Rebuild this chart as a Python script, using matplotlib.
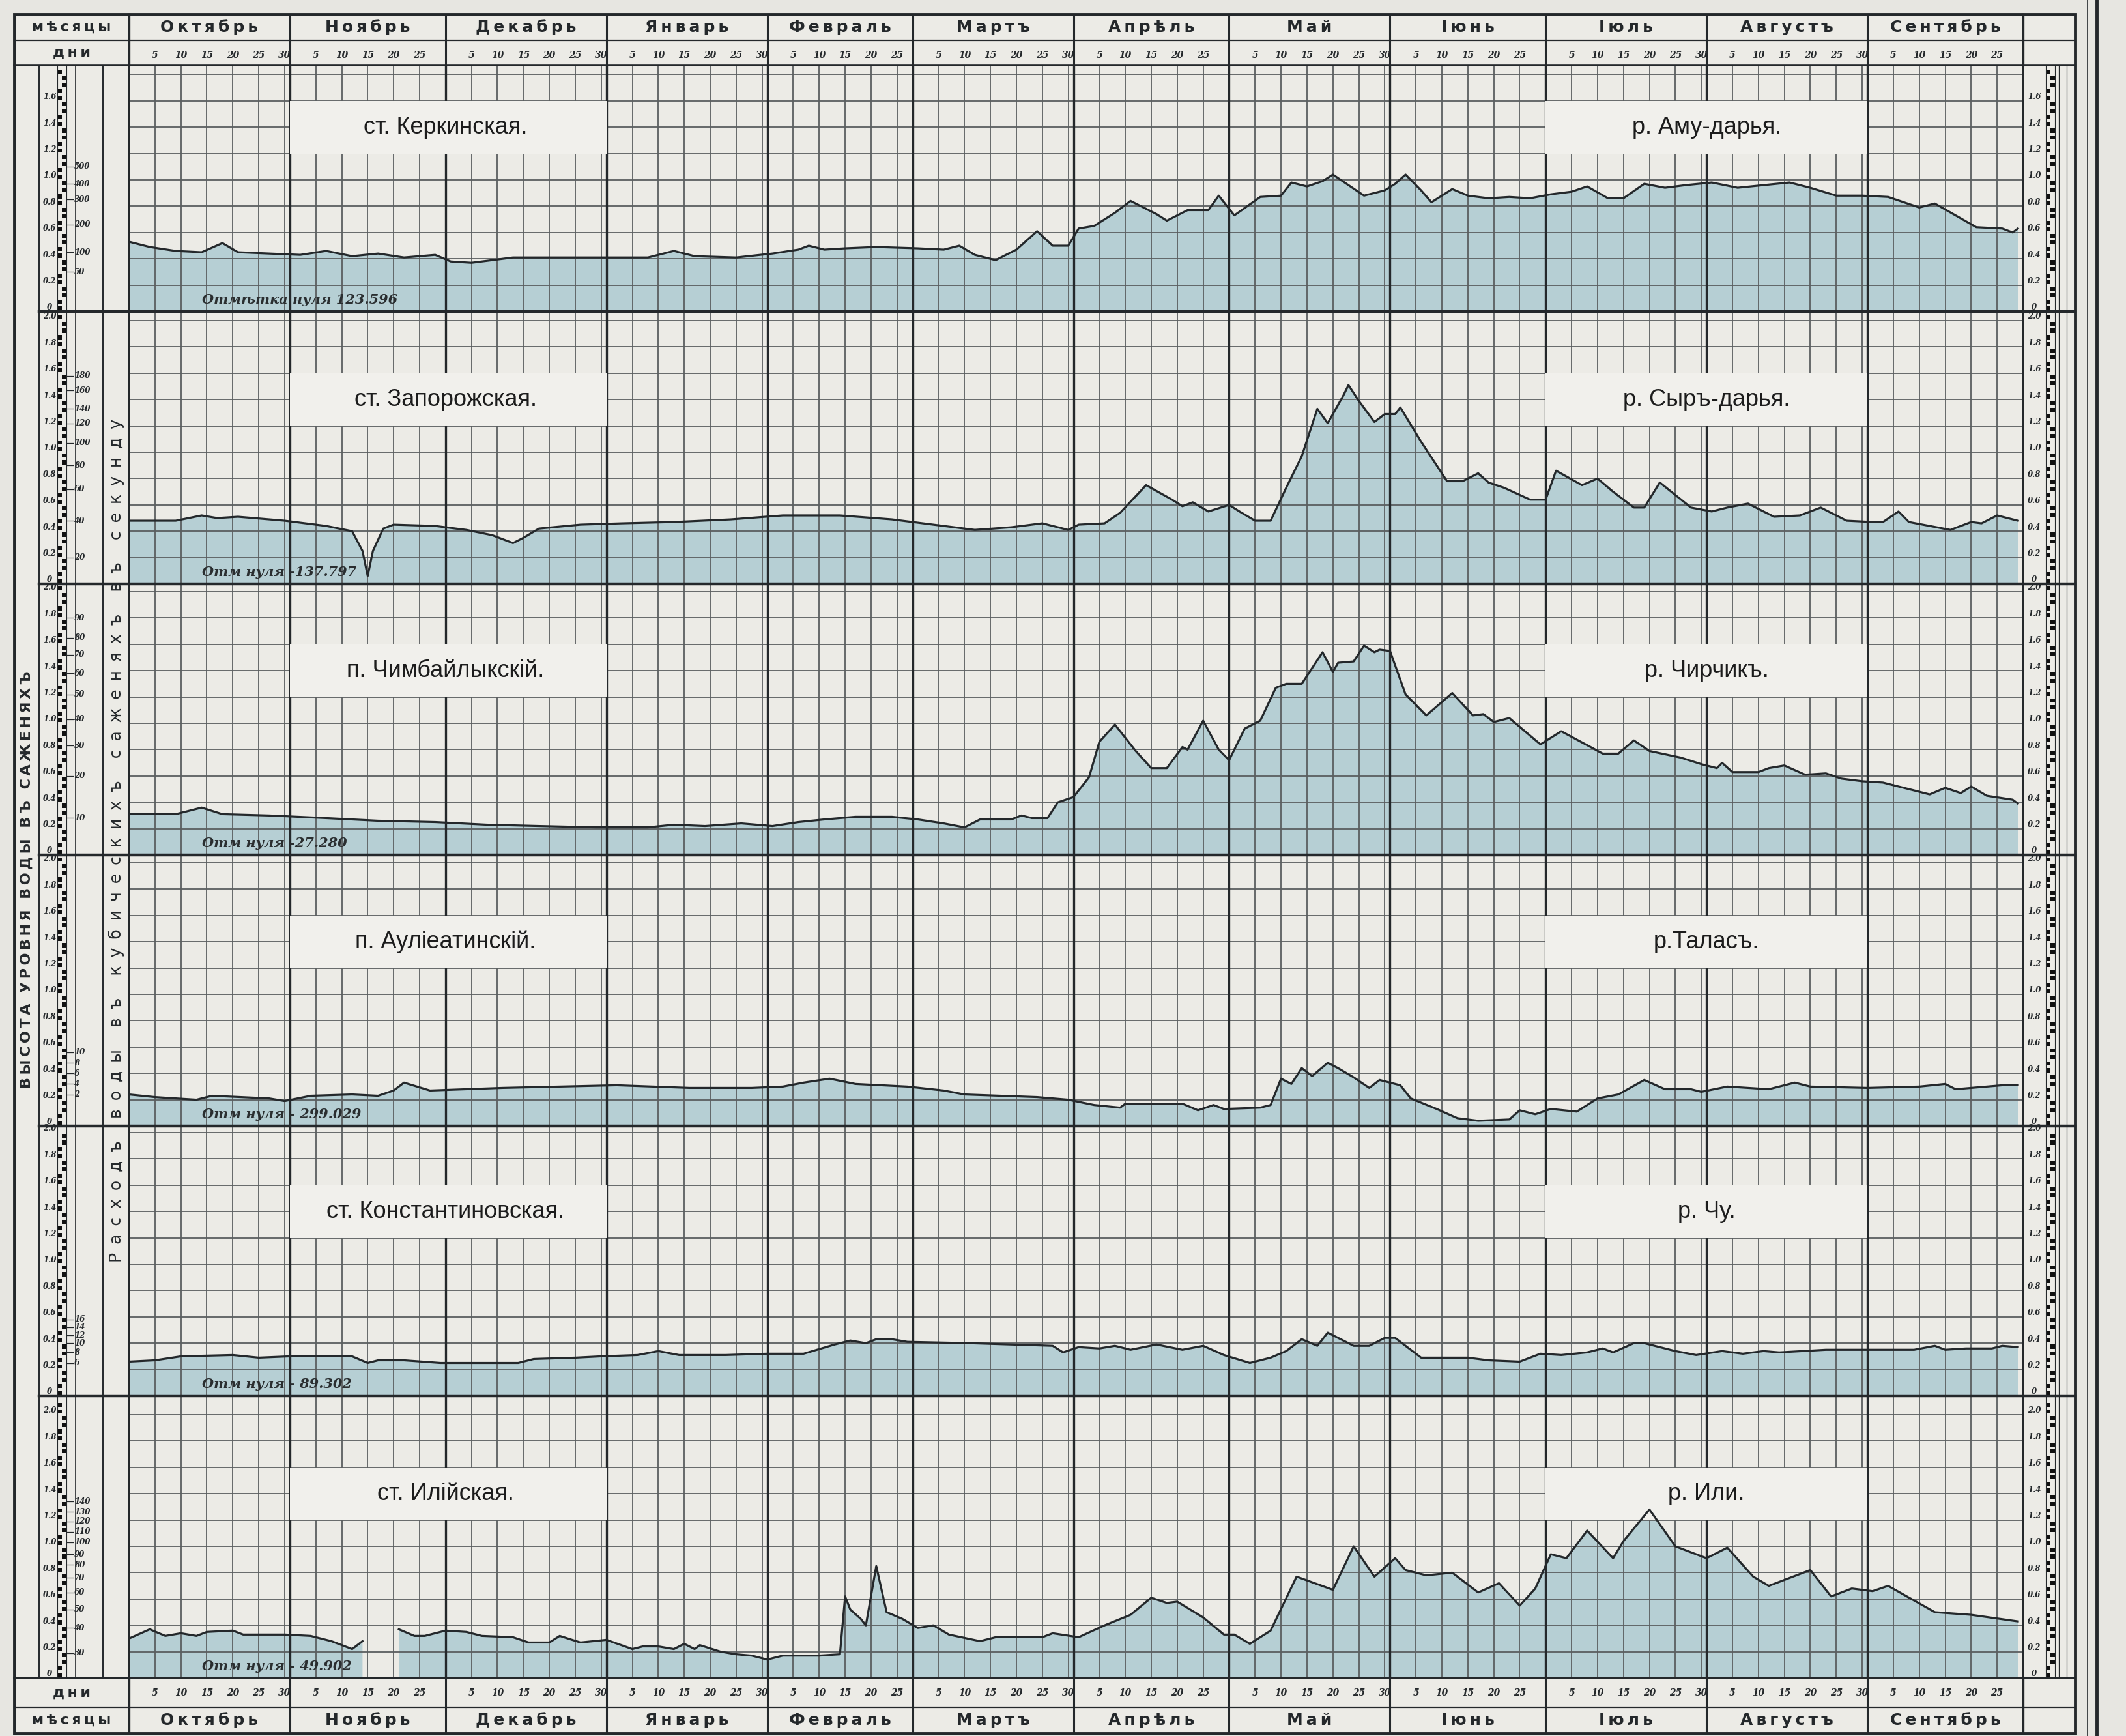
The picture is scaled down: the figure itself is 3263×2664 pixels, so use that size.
import numpy as np
import matplotlib.pyplot as plt
from matplotlib.patches import Rectangle

# ---- data (levels in сажени, day 0 = 1 October) ----
months = ['Октябрь', 'Ноябрь', 'Декабрь', 'Январь', 'Февраль', 'Мартъ',
          'Апрѣль', 'Май', 'Іюнь', 'Іюль', 'Августъ', 'Сентябрь']
month_len = [31, 30, 31, 31, 28, 31, 30, 31, 30, 31, 31, 30]

stations = ['ст. Керкинская.', 'ст. Запорожская.', 'п. Чимбайлыкскій.',
            'п. Аулiеатинскій.', 'ст. Константиновская.', 'ст. Илійская.']
rivers = ['р. Аму-дарья.', 'р. Сыръ-дарья.', 'р. Чирчикъ.', 'р.Таласъ.',
          'р. Чу.', 'р. Или.']
zero_marks = ['Отмѣтка нуля 123.596', 'Отм нуля -137.797', 'Отм нуля -27.280',
              'Отм нуля - 299.029', 'Отм нуля - 89.302', 'Отм нуля - 49.902']

amu = [(0, .53), (4, .49), (9, .46), (14, .45), (18, .52), (21, .45), (27, .44), (33, .43),
       (38, .46), (43, .42), (48, .44), (53, .41), (59, .43), (62, .38), (66, .37), (74, .41),
       (85, .41), (95, .41), (100, .41), (105, .46), (109, .42), (117, .41), (124, .44),
       (129, .47), (131, .50), (134, .47), (138, .48), (144, .49), (152, .48), (157, .47),
       (160, .50), (163, .43), (167, .39), (171, .47), (175, .61), (178, .50), (181, .50),
       (183, .63), (186, .65), (190, .75), (193, .84), (198, .74), (200, .69), (204, .77),
       (208, .77), (210, .88), (213, .73), (218, .87), (222, .88), (224, .98), (227, .95),
       (230, .99), (232, 1.04), (235, .96), (238, .88), (242, .92), (244, .97), (246, 1.04),
       (249, .92), (251, .83), (255, .93), (258, .88), (262, .86), (266, .87), (270, .86),
       (274, .89), (278, .91), (281, .95), (285, .86), (288, .86), (292, .97), (296, .94),
       (300, .96), (305, .98), (310, .94), (315, .96), (320, .98), (324, .94), (329, .88),
       (334, .88), (339, .87), (345, .79), (348, .82), (352, .73), (356, .64), (361, .63),
       (363, .60), (364, .63)]

syr = [(0, .48), (9, .48), (14, .52), (17, .50), (21, .51), (30, .48), (38, .44), (43, .40),
       (45, .25), (46, .06), (47, .25), (49, .42), (51, .45), (59, .44), (65, .41), (70, .37),
       (74, .31), (76, .35), (79, .42), (87, .45), (95, .46), (105, .47), (116, .49),
       (126, .52), (137, .52), (147, .49), (155, .45), (163, .41), (170, .43), (176, .46),
       (181, .41), (183, .45), (188, .46), (191, .54), (196, .75), (201, .64), (203, .59),
       (205, .62), (208, .55), (212, .60), (214, .55), (217, .48), (220, .48), (223, .73),
       (226, .97), (229, 1.33), (231, 1.22), (234, 1.43), (235, 1.51), (237, 1.39),
       (240, 1.23), (242, 1.29), (244, 1.29), (245, 1.34), (249, 1.08), (254, .78),
       (257, .78), (260, .84), (262, .77), (265, .73), (270, .64), (273, .64), (275, .86),
       (280, .75), (283, .80), (286, .70), (290, .58), (292, .58), (295, .77), (301, .58),
       (305, .55), (308, .58), (312, .61), (317, .51), (322, .52), (326, .58), (331, .48),
       (336, .47), (338, .47), (341, .55), (343, .47), (351, .41), (355, .47), (357, .46),
       (360, .52), (364, .48)]

chirchik = [(0, .31), (9, .31), (14, .36), (18, .31), (27, .30), (38, .28), (48, .26),
            (59, .25), (69, .23), (79, .22), (90, .21), (100, .21), (105, .23), (111, .22),
            (118, .24), (124, .22), (129, .25), (134, .27), (140, .29), (147, .29), (152, .27),
            (157, .24), (161, .21), (164, .27), (170, .27), (172, .30), (174, .28), (177, .28),
            (179, .40), (182, .44), (185, .59), (187, .86), (190, .99), (194, .79), (197, .66),
            (200, .66), (203, .82), (204, .80), (207, 1.02), (210, .80), (212, .72), (215, .96),
            (218, 1.02), (221, 1.27), (223, 1.30), (226, 1.30), (228, 1.42), (230, 1.54),
            (232, 1.39), (233, 1.46), (236, 1.47), (238, 1.59), (240, 1.54), (241, 1.56),
            (243, 1.55), (246, 1.22), (250, 1.06), (255, 1.23), (259, 1.06), (261, 1.07),
            (263, 1.01), (266, 1.04), (272, .84), (276, .94), (284, .77), (287, .77), (290, .87),
            (293, .79), (299, .74), (303, .69), (306, .66), (307, .70), (309, .63), (314, .63),
            (316, .66), (319, .68), (323, .61), (327, .62), (330, .58), (334, .56), (338, .55),
            (341, .52), (347, .46), (350, .51), (353, .47), (355, .52), (358, .45), (363, .42),
            (364, .39)]

talas = [(0, .24), (5, .22), (13, .20), (16, .23), (27, .21), (30, .19), (35, .23), (43, .24),
         (48, .23), (51, .27), (53, .33), (58, .27), (72, .29), (94, .31), (108, .29),
         (120, .29), (126, .30), (130, .33), (135, .36), (140, .32), (150, .30), (157, .27),
         (161, .24), (175, .22), (181, .20), (186, .16), (191, .14), (192, .17), (203, .17),
         (206, .12), (209, .16), (211, .13), (218, .14), (220, .16), (222, .36), (224, .32),
         (226, .44), (228, .38), (231, .48), (233, .44), (236, .37), (239, .29), (241, .35),
         (245, .31), (247, .21), (252, .13), (256, .06), (260, .04), (266, .05), (268, .12),
         (271, .09), (274, .13), (279, .11), (283, .21), (287, .24), (292, .35), (296, .28),
         (301, .28), (303, .26), (308, .30), (316, .28), (321, .33), (324, .30), (335, .29),
         (345, .30), (350, .32), (352, .28), (358, .30), (361, .31), (364, .31)]

chu = [(0, .26), (5, .27), (10, .30), (20, .31), (25, .29), (31, .30), (43, .30), (46, .25),
       (48, .27), (53, .27), (60, .25), (75, .25), (78, .28), (86, .29), (91, .30), (98, .31),
       (102, .34), (106, .31), (115, .31), (123, .32), (130, .32), (136, .39), (139, .42),
       (142, .40), (144, .43), (147, .43), (150, .41), (162, .40), (178, .38), (180, .33),
       (183, .37), (187, .36), (190, .38), (193, .35), (198, .39), (203, .35), (207, .38),
       (211, .31), (216, .25), (220, .29), (223, .34), (226, .43), (229, .38), (231, .48),
       (236, .38), (239, .38), (242, .44), (244, .44), (249, .29), (258, .29), (262, .27),
       (268, .26), (272, .32), (276, .31), (281, .33), (284, .36), (286, .33), (290, .40),
       (292, .40), (298, .34), (302, .31), (307, .34), (311, .32), (315, .34), (318, .33),
       (327, .35), (333, .35), (344, .35), (348, .38), (350, .35), (354, .36), (359, .36),
       (361, .38), (364, .37)]

ili = [(0, .30), (4, .37), (7, .32), (10, .34), (13, .32), (15, .35), (20, .36), (22, .33),
       (30, .33), (35, .32), (39, .28), (43, .22), (45, .28), (46, np.nan), (52, .37),
       (55, .32), (57, .32), (61, .36), (65, .35), (68, .32), (74, .31), (77, .27), (81, .27),
       (83, .32), (87, .27), (92, .29), (97, .22), (99, .24), (102, .24), (105, .22),
       (107, .26), (109, .22), (110, .25), (114, .20), (117, .18), (120, .17), (123, .14),
       (126, .17), (133, .17), (137, .18), (138, .62), (139, .52), (141, .45), (142, .40),
       (144, .85), (146, .50), (149, .45), (152, .38), (155, .40), (158, .33), (164, .28),
       (167, .31), (176, .31), (178, .34), (183, .31), (188, .40), (193, .48), (197, .61),
       (200, .57), (202, .58), (207, .46), (211, .33), (213, .33), (216, .26), (220, .36),
       (225, .77), (232, .67), (236, 1.00), (240, .77), (244, .91), (246, .82), (250, .78),
       (255, .80), (260, .65), (264, .72), (268, .55), (271, .68), (274, .94), (277, .91),
       (281, 1.12), (286, .91), (288, 1.04), (293, 1.28), (298, 1.00), (304, .91), (308, .99),
       (313, .77), (316, .70), (324, .82), (328, .62), (332, .68), (336, .66), (339, .70),
       (348, .50), (355, .48), (364, .43)]

# discharge scales (value, level)
dis_scales = [
    [(50, .30), (100, .45), (200, .66), (300, .85), (400, .97), (500, 1.10)],
    [(20, .20), (40, .48), (60, .72), (80, .90), (100, 1.07), (120, 1.22), (140, 1.33),
     (160, 1.47), (180, 1.58)],
    [(10, .28), (20, .60), (30, .83), (40, 1.03), (50, 1.22), (60, 1.38), (70, 1.52),
     (80, 1.65), (90, 1.80)],
    [(2, .24), (4, .32), (6, .40), (8, .48), (10, .56)],
    [(6, .25), (8, .33), (10, .40), (12, .46), (14, .52), (16, .58)],
    [(30, .19), (40, .38), (50, .52), (60, .65), (70, .76), (80, .86), (90, .94), (100, 1.03),
     (110, 1.11), (120, 1.19), (130, 1.26), (140, 1.34)],
]
level_max = [1.6, 2.0, 2.0, 2.0, 2.0, 2.0]

# ---- layout ----
W, H, DPI = 3263, 2664, 100
PAPER = '#e7e6e1'
INNER = '#ecebe6'
BOXC = '#f1f0ec'
FILL = '#b6cfd4'
INK = '#24282b'
GRID = '#5b5f60'

L_FRAME, R_FRAME = 22, 3185
PLOT_L, PLOT_R = 198, 3105
TOP, HDR_MID, HDR_BOT = 22, 62, 100
edges = [100, 478, 896, 1312, 1728, 2142, 2575]
FOOT_MID, BOTTOM = 2620, 2660
PPU = 202

starts = np.cumsum([0] + month_len[:-1])
NDAYS = sum(month_len)


def fig_rect(x0, y0, x1, y1):
    return [x0 / W, 1 - y1 / H, (x1 - x0) / W, (y1 - y0) / H]


def spaced(s, sep='\u200a'):
    return sep.join(s)


fig = plt.figure(figsize=(W / DPI, H / DPI), dpi=DPI, facecolor=PAPER)
bg = fig.add_axes([0, 0, 1, 1], zorder=0)
bg.set_xlim(0, W)
bg.set_ylim(H, 0)
bg.axis('off')
bg.add_patch(Rectangle((L_FRAME, TOP), R_FRAME - L_FRAME, BOTTOM - TOP,
                       facecolor=INNER, edgecolor='none'))

fr = fig.add_axes([0, 0, 1, 1], zorder=5)
fr.set_xlim(0, W)
fr.set_ylim(H, 0)
fr.axis('off')
fr.patch.set_alpha(0)

# frame and rulings
fr.add_patch(Rectangle((L_FRAME, TOP), R_FRAME - L_FRAME, BOTTOM - TOP,
                       facecolor='none', edgecolor=INK, lw=3.5))
fr.plot([3204, 3204], [0, H], color=INK, lw=1.2)
fr.plot([3218, 3218], [0, H], color=INK, lw=3.5)
for y, lw in [(HDR_MID, 1.6), (HDR_BOT, 2.6), (FOOT_MID, 1.6), (edges[-1], 2.6)]:
    fr.plot([L_FRAME, R_FRAME], [y, y], color=INK, lw=lw)
for y in edges[1:-1]:
    fr.plot([60, R_FRAME], [y, y], color=INK, lw=3.2)
for x, lw in [(60, 1.4), (116, 1.2), (158, 1.4), (PLOT_L, 2.8), (PLOT_R, 2.8)]:
    fr.plot([x, x], [HDR_BOT, edges[-1]], color=INK, lw=lw)
for x in (PLOT_L, PLOT_R):
    fr.plot([x, x], [TOP, HDR_BOT], color=INK, lw=2.4)
    fr.plot([x, x], [edges[-1], BOTTOM], color=INK, lw=2.4)
for x in (3160, 3172):
    fr.plot([x, x], [HDR_BOT, edges[-1]], color=INK, lw=0.9)

lab_kw = dict(ha='center', va='center', color=INK, family=['DejaVu Sans'],
              fontsize=16, weight='bold')
fr.text((L_FRAME + PLOT_L) / 2, (TOP + HDR_MID) / 2, spaced('мѣсяцы', '\u2009'), **lab_kw)
fr.text((L_FRAME + PLOT_L) / 2, (HDR_MID + HDR_BOT) / 2, spaced('дни', '\u2009'), **lab_kw)
fr.text((L_FRAME + PLOT_L) / 2, (edges[-1] + FOOT_MID) / 2, spaced('дни', '\u2009'), **lab_kw)
fr.text((L_FRAME + PLOT_L) / 2, (FOOT_MID + BOTTOM) / 2, spaced('мѣсяцы', '\u2009'), **lab_kw)

fr.text(41, 1350, spaced('ВЫСОТА УРОВНЯ ВОДЫ ВЪ САЖЕНЯХЪ', '\u2009'), rotation=90,
        ha='center', va='center', color=INK, family=['DejaVu Sans'], fontsize=16,
        weight='bold')
fr.text(178, 1290, spaced('Расходъ воды въ кубическихъ саженяхъ въ секунду', ' \u2009'),
        rotation=90, ha='center', va='center', color=INK, family=['DejaVu Sans'],
        fontsize=18)

# ---- header / footer with month and day labels ----
fine_days = [s + k for s, n in zip(starts, month_len) for k in range(5, 31, 5) if k < n]
day_labels = [(s + k, str(k)) for s, n in zip(starts, month_len)
              for k in range(5, 31, 5) if k < n]


def month_band(y0, y1, month_y, day_y):
    ax = fig.add_axes(fig_rect(PLOT_L, y0, PLOT_R, y1), zorder=4)
    ax.set_xlim(0, NDAYS)
    ax.set_ylim(y1, y0)
    ax.axis('off')
    ax.patch.set_alpha(0)
    for s in starts[1:]:
        ax.axvline(s, color=INK, lw=2.2)
    for s, n, name in zip(starts, month_len, months):
        ax.text(s + n / 2, month_y, spaced(name, '\u2009'), ha='center', va='center',
                fontsize=18, color=INK, family=['DejaVu Sans'], weight='bold')
    for x, t in day_labels:
        ax.text(x, day_y, t, ha='center', va='center', fontsize=10, color=INK,
                family=['DejaVu Serif'], style='italic', weight='bold')


month_band(TOP, HDR_BOT, (TOP + HDR_MID) / 2, (HDR_MID + HDR_BOT) / 2 + 4)
month_band(edges[-1], BOTTOM, (FOOT_MID + BOTTOM) / 2, (edges[-1] + FOOT_MID) / 2)


# ---- scale columns ----
def scale_column(x0, x1, top, bot, lmax, lab_x, lad_x, dis=None):
    ytop = (bot - top) / PPU
    ax = fig.add_axes(fig_rect(x0, top, x1, bot), zorder=3)
    ax.set_xlim(x0, x1)
    ax.set_ylim(0, ytop)
    ax.axis('off')
    ax.patch.set_alpha(0)
    for v in np.arange(0, lmax + 0.01, 0.2):
        t = '0' if v < 0.01 else f'{v:.1f}'
        ax.text(lab_x, v + 0.03, t, ha='center', va='center', fontsize=8.5, color=INK,
                family=['DejaVu Serif'], style='italic', weight='bold')
    step = 0.05
    for k in range(int(ytop / step)):
        xx = lad_x if (k // 2) % 2 == 0 else lad_x + 7
        ax.add_patch(Rectangle((xx, k * step + 0.008), 7, step * 0.62,
                               facecolor='#111111', edgecolor='none'))
    ax.plot([lad_x, lad_x], [0, ytop], color=INK, lw=0.8)
    ax.plot([lad_x + 14, lad_x + 14], [0, ytop], color=INK, lw=0.8)
    if dis:
        for q, lv in dis:
            ax.plot([lad_x + 14, lad_x + 24], [lv, lv], color=INK, lw=0.9)
            ax.text(lad_x + 26, lv, str(q), ha='left', va='center', fontsize=8.5,
                    color=INK, family=['DejaVu Serif'], style='italic', weight='bold')


for i in range(6):
    scale_column(60, PLOT_L, edges[i], edges[i + 1], level_max[i], 76, 88, dis_scales[i])
    scale_column(PLOT_R, R_FRAME, edges[i], edges[i + 1], level_max[i], 3122, 3140)

# ---- river panels ----
series = [amu, syr, chirchik, talas, chu, ili]
for i, data in enumerate(series):
    top, bot = edges[i], edges[i + 1]
    ytop = (bot - top) / PPU
    ax = fig.add_axes(fig_rect(PLOT_L, top, PLOT_R, bot), zorder=2)
    ax.set_xlim(0, NDAYS)
    ax.set_ylim(0, ytop)
    ax.axis('off')
    ax.patch.set_alpha(0)
    d = np.array([p[0] for p in data], dtype=float)
    v = np.array([p[1] for p in data], dtype=float)
    ax.fill_between(d, v, 0, color=FILL, lw=0, zorder=1)
    for y in np.arange(0.2, ytop - 0.02, 0.2):
        ax.axhline(y, color=GRID, lw=1.3, zorder=2)
    for x in fine_days:
        ax.axvline(x, color=GRID, lw=1.3, zorder=2)
    for x in starts[1:]:
        ax.axvline(x, color=INK, lw=2.4, zorder=2)
    y0, y1 = 1.2, 1.6
    ax.add_patch(Rectangle((starts[1], y0), starts[3] - starts[1], y1 - y0,
                           facecolor=BOXC, edgecolor='none', zorder=3))
    ax.add_patch(Rectangle((starts[9], y0), starts[11] - starts[9], y1 - y0,
                           facecolor=BOXC, edgecolor='none', zorder=3))
    ax.text(starts[2], (y0 + y1) / 2, stations[i], ha='center', va='center', fontsize=26,
            color='#1c1c1c', family=['Liberation Sans', 'DejaVu Sans'], zorder=4)
    ax.text(starts[10], (y0 + y1) / 2, rivers[i], ha='center', va='center', fontsize=26,
            color='#1c1c1c', family=['Liberation Sans', 'DejaVu Sans'], zorder=4)
    ax.plot(d, v, color=INK, lw=2.3, zorder=5)
    ax.text(14, 0.09, zero_marks[i], ha='left', va='center', fontsize=15, color='#2a2e30',
            family=['DejaVu Serif'], style='italic', weight='bold', zorder=5)

fig.savefig('out.png', dpi=DPI, facecolor=PAPER)
